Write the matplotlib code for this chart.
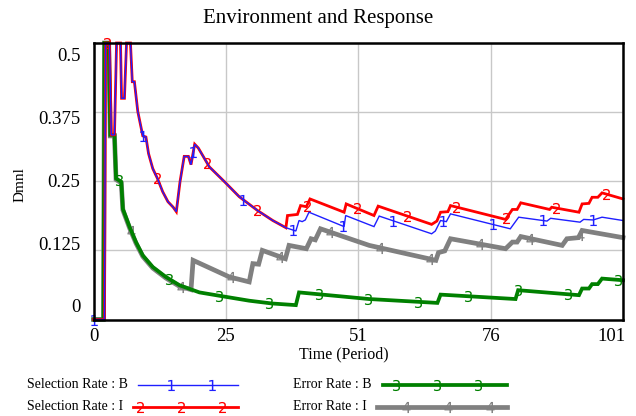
import numpy as np
import matplotlib
matplotlib.use("Agg")
import matplotlib.pyplot as plt

plt.rcParams['font.family'] = ['Liberation Serif', 'DejaVu Serif']

# Selection rates: B and I follow the same path until ~t=36.7
t_sel_common = [0, 2.1, 2.3, 3.05, 3.4, 4.0, 4.4, 5.15, 5.35, 5.9, 6.3, 7.05, 7.4, 7.8,
                8.45, 9.4, 10.0, 10.5, 11.3, 12.2, 13.2, 14.2, 15.2, 15.8, 16.5,
                17.3, 18.1, 18.6, 19.3, 20.0, 22.1, 25.0, 27.8, 31.3, 34.2, 36.7]
v_sel_common = [0, 0, 0.5, 0.5, 0.334, 0.334, 0.5, 0.5, 0.40, 0.40, 0.5, 0.5, 0.43, 0.43,
                0.376, 0.332, 0.33, 0.30, 0.273, 0.255, 0.231, 0.213, 0.203, 0.195, 0.249,
                0.295, 0.295, 0.28, 0.317, 0.31, 0.276, 0.249, 0.222, 0.197, 0.179, 0.166]

t_sel_b_tail = [38.6, 39.2, 39.8, 40.4, 41.1, 47.8, 48.1, 53.5, 54.5, 64.5, 65.2, 66.2,
                67.3, 68.1, 79.5, 81.1, 86.5, 87.2, 92.8, 93.5, 95.3, 97.0, 101]
v_sel_b_tail = [0.160, 0.179, 0.177, 0.180, 0.194, 0.168, 0.188, 0.168, 0.187, 0.155, 0.160, 0.179,
                0.177, 0.191, 0.164, 0.185, 0.178, 0.183, 0.176, 0.181, 0.180, 0.185, 0.179]

t_sel_i_tail = [37.0, 38.9, 39.5, 40.6, 41.3, 47.8, 48.2, 53.5, 54.3, 64.5, 65.5, 66.2,
                67.6, 68.1, 78.6, 79.9, 80.8, 81.5, 87.0, 87.4, 92.6, 93.2, 94.5, 95.1,
                96.2, 97.0, 101]
v_sel_i_tail = [0.188, 0.190, 0.206, 0.204, 0.218, 0.194, 0.209, 0.188, 0.205, 0.172, 0.178, 0.194,
                0.195, 0.206, 0.181, 0.199, 0.199, 0.211, 0.199, 0.203, 0.194, 0.209, 0.210, 0.221,
                0.221, 0.229, 0.218]

t_err_b = [0, 1.9, 2.1, 2.9, 3.2, 4.0, 4.3, 5.3, 5.6, 6.9, 8.1, 9.4, 11.3, 13.8, 16.4,
           20.2, 24.6, 29.7, 34.0, 38.6, 39.2, 52.6, 65.6, 66.2, 80.5, 81.0, 92.6,
           93.2, 94.5, 95.1, 96.2, 97.0, 101]
v_err_b = [0, 0, 0.5, 0.5, 0.334, 0.334, 0.255, 0.249, 0.200, 0.167, 0.140, 0.116, 0.095, 0.077, 0.062,
           0.049, 0.042, 0.034, 0.029, 0.026, 0.049, 0.037, 0.030, 0.045, 0.037, 0.053, 0.044,
           0.056, 0.056, 0.064, 0.064, 0.074, 0.071]

t_err_i = [0, 1.9, 2.1, 2.9, 3.2, 4.0, 4.3, 5.3, 5.6, 6.9, 8.1, 9.4, 11.3, 13.8, 16.4,
           18.6, 19.0, 25.9, 29.7, 30.4, 31.5, 32.2, 36.6, 37.3, 40.6, 41.5, 42.3,
           43.3, 52.6, 65.3, 65.8, 67.0, 68.1, 78.6, 79.9, 80.8, 81.5, 89.4, 90.3,
           92.5, 93.2, 101]
v_err_i = [0, 0, 0.5, 0.5, 0.332, 0.332, 0.253, 0.247, 0.198, 0.165, 0.138, 0.114, 0.093, 0.075, 0.060,
           0.054, 0.107, 0.077, 0.068, 0.101, 0.100, 0.125, 0.110, 0.134, 0.128, 0.146, 0.144,
           0.164, 0.134, 0.107, 0.121, 0.124, 0.146, 0.128, 0.140, 0.140, 0.150, 0.134, 0.146,
           0.148, 0.161, 0.148]

x_ticks = [0, 25.25, 50.5, 75.75, 101]
x_labels = ['0', '25', '51', '76', '101']
y_ticks = [0, 0.125, 0.25, 0.375, 0.5]
y_labels = ['0', '0.125', '0.25', '0.375', '0.5']

series = [
    # name, t, v, color, lw, marker, marker offset, zorder
    ('Selection Rate : B', t_sel_common + t_sel_b_tail, v_sel_common + v_sel_b_tail,
     '#1f1fff', 1.0, '1', 0.0, 5),
    ('Selection Rate : I', t_sel_common + t_sel_i_tail, v_sel_common + v_sel_i_tail,
     '#ff0000', 2.0, '2', 2.6, 4),
    ('Error Rate : B', t_err_b, v_err_b, '#008000', 2.7, '3', 4.85, 3),
    ('Error Rate : I', t_err_i, v_err_i, '#808080', 3.4, '4', 7.1, 2),
]

fig = plt.figure(figsize=(6.36, 4.16), dpi=100)
W, H = 636, 416
ax = fig.add_axes([93.5 / W, 1 - 319.5 / H, (623 - 93.5) / W, (319.5 - 43) / H])

for name, t, v, col, lw, mk, off, z in series:
    t = np.array(t)
    v = np.array(v)
    ax.plot(t, v, color=col, lw=lw, zorder=z, solid_joinstyle='miter', clip_on=False)
    mt = np.arange(off, 101, 9.52)
    mv = np.interp(mt, t, v)
    ax.plot(mt, mv, ls='none', marker='$' + mk + '$', ms=8, mec=col, mfc=col,
            mew=0, zorder=z + 0.5, clip_on=False)

ax.set_xlim(0, 101)
ax.set_ylim(0, 0.5)
ax.set_xticks(x_ticks)
ax.set_yticks(y_ticks)
ax.set_xticklabels([])
ax.set_yticklabels([])
ax.tick_params(length=0)
ax.grid(True, color='#c8c8c8', lw=1)
ax.set_axisbelow(True)
for s in ax.spines.values():
    s.set_linewidth(1.8)
    s.set_color('black')
    s.set_zorder(10)

# Vensim-style tick labels (spread inside the axis range)
for i, lab in enumerate(y_labels):
    ax.text(-0.025, 0.042 + 0.227 * i, lab, transform=ax.transAxes,
            ha='right', va='center', fontsize=13.5)
for i, (xt, lab) in enumerate(zip(x_ticks, x_labels)):
    last = i == len(x_ticks) - 1
    ax.text(101.5 if last else xt, -0.06, lab, transform=ax.get_xaxis_transform(),
            ha='right' if last else 'center', va='center', fontsize=13.5)

fig.text(318 / W, 1 - 18 / H, 'Environment and Response', ha='center', va='center', fontsize=15)
fig.text(344 / W, 1 - 354 / H, 'Time (Period)', ha='center', va='center', fontsize=11.5)
fig.text(20 / W, 1 - 185 / H, 'Dmnl', ha='center', va='center', rotation=90, fontsize=11)

# legend drawn in pixel coordinates
lg = fig.add_axes([0, 0, 1, 1])
lg.set_xlim(0, W)
lg.set_ylim(H, 0)
lg.axis('off')
leg_rows = [
    (27, 385, 138, 238, [171, 212]),
    (27, 407, 133, 238, [140, 181, 222]),
    (293, 385, 383, 507, [396, 437, 478]),
    (293, 407, 377, 507, [406, 448, 490]),
]
for (name, t, v, col, lw, mk, off, z), (tx, ty, x0, x1, mks) in zip(series, leg_rows):
    lg.text(tx, ty, name, ha='left', va='center', fontsize=10)
    lg.plot([x0, x1], [ty, ty], color=col, lw=lw)
    lg.plot(mks, [ty] * len(mks), ls='none', marker='$' + mk + '$', ms=8,
            mec=col, mfc=col, mew=0)

fig.savefig('out.png', dpi=100)
